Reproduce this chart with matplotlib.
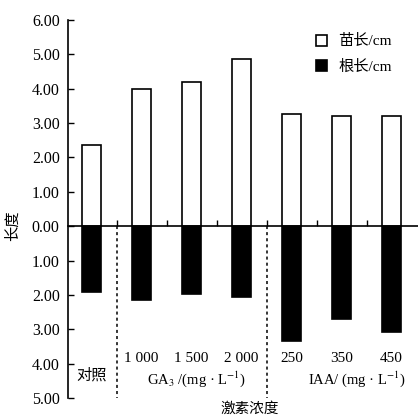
import matplotlib
matplotlib.use("Agg")
import matplotlib.pyplot as plt
from matplotlib.ticker import FuncFormatter, FixedLocator
from matplotlib.patches import Patch

plt.rcParams['font.family'] = ['Liberation Serif', 'Noto Sans CJK SC', 'DejaVu Sans']
plt.rcParams['mathtext.fontset'] = 'stix'

categories = ["对照", "1 000", "1 500", "2 000", "250", "350", "450"]
shoot_len = [2.35, 3.98, 4.19, 4.87, 3.27, 3.20, 3.21]
root_len = [1.91, 2.15, 1.96, 2.05, 3.34, 2.71, 3.07]
group_labels = ["GA$_3$ /(mg · L$^{-1}$)", "IAA/ (mg · L$^{-1}$)"]
legend_labels = ["苗长/cm", "根长/cm"]
y_ticks = [-5, -4, -3, -2, -1, 0, 1, 2, 3, 4, 5, 6]

fig = plt.figure(figsize=(4.18, 4.19), dpi=100)
ax = fig.add_axes([68/418, 21/419, 350/418, 378/419])

x = list(range(len(categories)))
w = 0.38
ax.bar(x, shoot_len, width=w, color='white', edgecolor='black', linewidth=1.2, zorder=3)
ax.bar(x, [-v for v in root_len], width=w, color='black', edgecolor='black', linewidth=1.2, zorder=3)

ax.set_xlim(-0.47, 6.53)
ax.set_ylim(-5, 6)

ax.spines['top'].set_visible(False)
ax.spines['right'].set_visible(False)
ax.spines['bottom'].set_position(('data', 0))
ax.spines['bottom'].set_linewidth(1.2)
ax.spines['left'].set_linewidth(1.2)

ax.yaxis.set_major_locator(FixedLocator(y_ticks))
ax.yaxis.set_major_formatter(FuncFormatter(lambda v, p: f"{abs(v):.2f}"))
ax.tick_params(axis='y', direction='in', length=4, width=1.0, labelsize=11.5, pad=6)

ax.xaxis.set_major_locator(FixedLocator([0.5, 1.5, 2.5, 3.5, 4.5, 5.5]))
ax.tick_params(axis='x', direction='in', length=4, width=1.0, labelbottom=False)

# dividers
for xd in [0.5, 3.5]:
    ax.plot([xd, xd], [0, -5.0], linestyle=(0, (2, 2)), color='black', lw=1.1, zorder=2, clip_on=False)

# category labels
for i, c in enumerate(categories):
    if i == 0:
        ax.text(i, -4.33, c, ha='center', va='center', fontsize=11)
    else:
        ax.text(i, -3.84, c, ha='center', va='center', fontsize=11)

ax.text(2.1, -4.45, group_labels[0], ha='center', va='center', fontsize=10.5)
ax.text(5.3, -4.45, group_labels[1], ha='center', va='center', fontsize=10.5)

ax.text(3.17, -5.33, "激素浓度", ha='center', va='center', fontsize=10.5, clip_on=False)
fig.text(13/418, 1 - 226/419, "长度", rotation=90, ha='center', va='center', fontsize=11)

handles = [Patch(facecolor='white', edgecolor='black', linewidth=1.2),
           Patch(facecolor='black', edgecolor='black', linewidth=1.2)]
leg = ax.legend(handles, legend_labels, loc='upper right', bbox_to_anchor=(0.955, 0.99),
                frameon=False, fontsize=11, handlelength=0.75, handleheight=0.75,
                handletextpad=0.7, labelspacing=0.75, borderaxespad=0.3)

fig.savefig("out.png", dpi=100)
